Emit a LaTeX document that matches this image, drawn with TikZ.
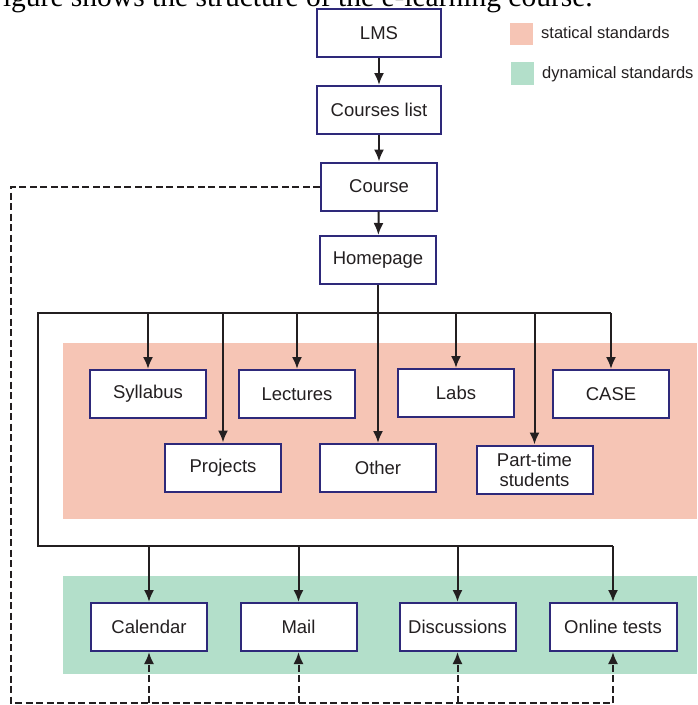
\documentclass[tikz,border=0pt]{standalone}
\usepackage{fontspec}
\setmainfont{Liberation Sans}
\newfontfamily\capfont{Liberation Serif}
\usetikzlibrary{arrows.meta,calc}
\definecolor{boxborder}{RGB}{46,41,122}
\definecolor{pinkbg}{RGB}{246,197,181}
\definecolor{greenbg}{RGB}{179,223,202}
\definecolor{txt}{RGB}{35,31,32}
\begin{document}
\begin{tikzpicture}[x=1pt,y=-1pt,
  box/.style={draw=boxborder, line width=2pt, fill=white, minimum width=116pt,
    minimum height=48pt, inner sep=0pt, font=\fontsize{18.5}{20}\selectfont,
    text=txt, align=center},
  arr/.style={line width=2pt, draw=txt, -{Latex[length=12pt,width=10pt]}},
  conn/.style={line width=2pt, draw=txt},
  dconn/.style={line width=2pt, draw=txt, dash pattern=on 7pt off 3.5pt},
  darr/.style={dconn, -{Latex[length=12pt,width=10pt]}},
  legtext/.style={anchor=west, inner sep=0pt, font=\fontsize{16.5}{18}\selectfont, text=txt}
]
\useasboundingbox (0,0) rectangle (697,705);
\clip (0,0) rectangle (697,705);

% caption fragment at top
\node[anchor=base east, inner sep=0pt, font=\capfont\fontsize{29.5}{32}\selectfont, text=black]
  (caption) at (593,6.5) {igure shows the structure of the e-learning course.};

% background areas
\fill[pinkbg] (63,343) rectangle (697,519);
\fill[greenbg] (63,576) rectangle (697,674);

% legend
\fill[pinkbg] (510,23) rectangle (533,45);
\node[legtext] (legS) at (541,33) {statical standards};
\fill[greenbg] (511,62) rectangle (534,85);
\node[legtext] (legD) at (542,74) {dynamical standards};

% main chain
\node[box, minimum width=124pt] (lms) at (379,33) {LMS};
\node[box, minimum width=124pt] (clist) at (379,110) {Courses list};
\node[box] (course) at (379,186.5) {Course};
\node[box] (home) at (378,260) {Homepage};

% static boxes
\node[box] (syl) at (148,394) {Syllabus};
\node[box] (lec) at (297,394) {Lectures};
\node[box] (labs) at (456,393) {Labs};
\node[box] (case) at (611,394) {CASE};
\node[box] (proj) at (223,467.5) {Projects};
\node[box] (other) at (378,468) {Other};
\node[box] (part) at (534.5,469.5) {Part-time\\students};

% dynamic boxes
\node[box] (cal) at (149,627) {Calendar};
\node[box] (mail) at (298.5,627) {Mail};
\node[box] (disc) at (457.5,627) {Discussions};
\node[box, minimum width=127pt] (tests) at (613,627) {Online tests};

% coordinates of buses
\coordinate (busL) at (38,313);
\coordinate (bus2L) at (38,546);
\coordinate (dTop) at (11,186.5);
\coordinate (dBot) at (11,703);

% chain arrows
\draw[arr] (lms) -- (clist);
\draw[arr] (clist) -- (course);
\draw[arr] (course) -- (home);
\draw[arr] (home.south) -- (other.north);

% buses
\draw[conn] (busL -| case.north) -- (busL) -- (bus2L) -- (bus2L -| tests.north);
\foreach \n in {syl,lec,labs,case,proj,part}{
  \draw[arr] (busL -| \n.north) -- (\n.north);
}
\foreach \n in {cal,mail,disc,tests}{
  \draw[arr] (bus2L -| \n.north) -- (\n.north);
}

% dashed feedback
\draw[dconn] (course.west) -- (dTop) -- (dBot) -- (dBot -| tests.south);
\foreach \n in {cal,mail,disc,tests}{
  \draw[darr] (dBot -| \n.south) -- (\n.south);
}
\end{tikzpicture}
\end{document}
